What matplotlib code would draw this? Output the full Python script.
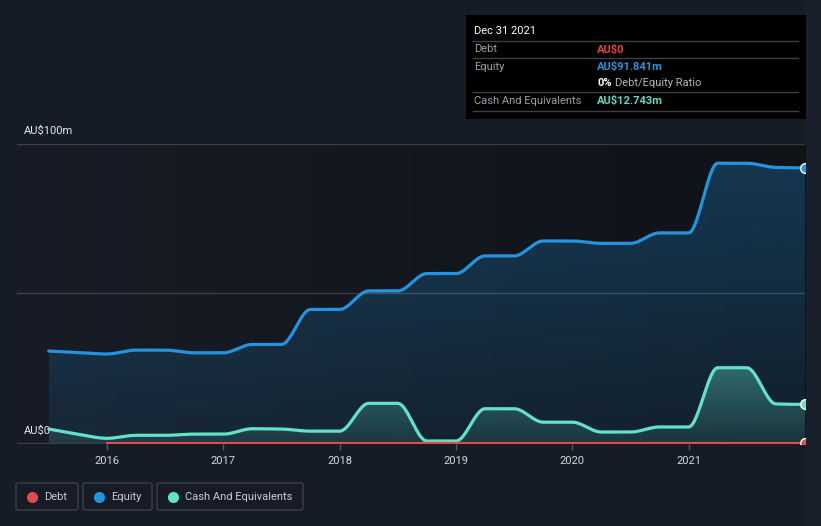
import numpy as np
import matplotlib
matplotlib.use('Agg')
import matplotlib.pyplot as plt
from matplotlib.patches import Rectangle, FancyBboxPatch
from matplotlib.lines import Line2D
from matplotlib.colors import to_rgb

plt.rcParams['font.family'] = ['Roboto', 'DejaVu Sans']

# quarterly dates as decimal years
dates = [2015.5, 2015.75, 2016.0, 2016.25, 2016.5, 2016.75, 2017.0, 2017.25, 2017.5,
         2017.75, 2018.0, 2018.25, 2018.5, 2018.75, 2019.0, 2019.25, 2019.5, 2019.75,
         2020.0, 2020.25, 2020.5, 2020.75, 2021.0, 2021.25, 2021.5, 2021.75, 2022.0]
equity = [30.6, 30.1, 29.6, 30.9, 30.9, 30.0, 30.0, 32.8, 32.8,
          44.5, 44.5, 50.7, 50.7, 56.5, 56.5, 62.4, 62.4, 67.4,
          67.4, 66.6, 66.6, 70.1, 70.1, 93.4, 93.4, 92.0, 91.841]
cash = [4.5, 2.8, 1.4, 2.4, 2.4, 2.8, 2.8, 4.6, 4.5,
        3.8, 3.8, 13.1, 13.1, 0.5, 0.5, 11.3, 11.3, 6.8,
        6.8, 3.5, 3.5, 5.2, 5.2, 25.0, 25.0, 12.9, 12.743]
debt_dates = dates[2:]
debt = [0.0] * len(debt_dates)

years = [2016, 2017, 2018, 2019, 2020, 2021]

BG = '#161c26'
EQ = '#2394df'
CA = '#63e2cb'
DE = '#e5484d'


def monotone(xs, ys, n=24):
    # d3-style monotoneX curve, only used for drawing
    xs = np.asarray(xs, float)
    ys = np.asarray(ys, float)
    h = np.diff(xs)
    s = np.diff(ys) / h
    m = np.zeros_like(ys)
    for i in range(1, len(xs) - 1):
        p = (s[i - 1] * h[i] + s[i] * h[i - 1]) / (h[i - 1] + h[i])
        m[i] = (np.sign(s[i - 1]) + np.sign(s[i])) * min(abs(s[i - 1]), abs(s[i]), 0.5 * abs(p))
    m[0] = (3 * s[0] - m[1]) / 2
    m[-1] = (3 * s[-1] - m[-2]) / 2
    ox, oy = [], []
    for i in range(len(xs) - 1):
        t = np.linspace(0, 1, n, endpoint=False)
        h00 = 2 * t**3 - 3 * t**2 + 1
        h10 = t**3 - 2 * t**2 + t
        h01 = -2 * t**3 + 3 * t**2
        h11 = t**3 - t**2
        ox.append(xs[i] + t * h[i])
        oy.append(h00 * ys[i] + h10 * h[i] * m[i] + h01 * ys[i + 1] + h11 * h[i] * m[i + 1])
    ox.append([xs[-1]])
    oy.append([ys[-1]])
    return np.concatenate(ox), np.concatenate(oy)


fig = plt.figure(figsize=(8.21, 5.26), dpi=100, facecolor=BG)
W, H = 821, 526


def fx(x):
    return x / W


def fy(y):
    return 1 - y / H


# right strip
fig.add_artist(Rectangle((fx(805), 0), 16 / W, 1, transform=fig.transFigure,
                         facecolor='#19202b', edgecolor='none', zorder=0))

ax = fig.add_axes([fx(17), fy(444), (805 - 17) / W, (444 - 143.5) / H])
ax.set_facecolor(BG)
for sp in ax.spines.values():
    sp.set_visible(False)
ax.set_xlim(2015.227, 2022.0)
ax.set_ylim(-0.5, 100)

# plot background gradient
c0, c1 = np.array(to_rgb('#171c26')), np.array(to_rgb('#0f1217'))
g = np.linspace(0, 1, 256)[None, :, None]
ax.imshow(c0 + (c1 - c0) * g, extent=[0, 1, 0, 1], transform=ax.transAxes,
          aspect='auto', zorder=0)


def grad_fill(x, y, color, a_top, a_bot, top, z):
    poly = ax.fill_between(x, y, -0.5, color='none', linewidth=0)
    img = np.zeros((256, 2, 4))
    img[:, :, :3] = to_rgb(color)
    img[:, :, 3] = np.linspace(a_bot, a_top, 256)[:, None]
    im = ax.imshow(img, extent=[x.min(), x.max(), -0.5, top], origin='lower',
                   aspect='auto', zorder=z)
    im.set_clip_path(poly.get_paths()[0], transform=ax.transData)


ex, ey = monotone(dates, equity)
cx, cy = monotone(dates, cash)

grad_fill(ex, ey, EQ, 0.30, 0.10, 100, 1)
grad_fill(cx, cy, CA, 0.38, 0.10, 26, 2)

# gridlines
for yv in [100, 50]:
    ax.axhline(yv, color='white', alpha=0.17, lw=1, zorder=3)
ax.axhline(-0.27, color='#3a3f47', lw=1, zorder=3)

ax.plot(ex, ey, color=EQ, lw=2.3, zorder=5, solid_capstyle='round')
ax.plot(cx, cy, color=CA, lw=2.3, zorder=5, solid_capstyle='round')
ax.plot(debt_dates, debt, color=DE, lw=1.6, zorder=6)

ax.plot(dates[-1], equity[-1], 'o', ms=7, color=EQ, mec='white', mew=1, zorder=7)
ax.plot(dates[-1], cash[-1], 'o', ms=7, color=CA, mec='white', mew=1, zorder=7)
ax.plot(debt_dates[-1], debt[-1], 'o', ms=7, color=DE, mec='white', mew=1, zorder=7)

ax.set_xticks(years)
ax.set_xticklabels([str(y) for y in years])
ax.tick_params(axis='x', colors='#555b65', length=4, width=1, labelcolor='#d5d8dc',
               labelsize=8, pad=5)
ax.set_yticks([])

ytr = ax.get_yaxis_transform()
ax.text(7 / (805 - 17), 102.5, 'AU$100m', transform=ytr, color='#e6e8eb',
        fontsize=8, va='bottom', ha='left')
ax.text(7 / (805 - 17), 2.2, 'AU$0', transform=ytr, color='#e6e8eb',
        fontsize=8, va='bottom', ha='left')

# tooltip
fig.add_artist(Rectangle((fx(466), fy(119)), (806 - 466) / W, (119 - 15) / H,
                         transform=fig.transFigure, facecolor='black', edgecolor='none', zorder=10))
fig.text(fx(474), fy(31), 'Dec 31 2021', color='white', fontsize=8, va='center', zorder=11)
for yl in [41.3, 58.3, 92.3, 110.5]:
    fig.add_artist(Line2D([fx(473), fx(798)], [fy(yl), fy(yl)], transform=fig.transFigure,
                          color='#3d3f43', lw=1, zorder=11))
rows = [('Debt', 'AU$0', '#e84545', 49.5),
        ('Equity', 'AU$91.841m', EQ, 66.5),
        ('Cash And Equivalents', 'AU$12.743m', '#5fd9c3', 100.5)]
for lab, val, col, yy in rows:
    fig.text(fx(474), fy(yy), lab, color='#9a9ea5', fontsize=8, va='center', zorder=11)
    fig.text(fx(597), fy(yy), val, color=col, fontsize=8, va='center', fontweight='bold', zorder=11)
fig.text(fx(597), fy(83.5), '0%', color='white', fontsize=8, va='center',
         fontweight='bold', zorder=11)
fig.text(fx(615), fy(83.5), 'Debt/Equity Ratio', color='#b3b6bb', fontsize=8, va='center', zorder=11)

# legend
items = [('Debt', DE, 16, 78), ('Equity', EQ, 83, 152), ('Cash And Equivalents', CA, 157, 303)]
for lab, col, x0, x1 in items:
    fig.add_artist(FancyBboxPatch((fx(x0), fy(510)), (x1 - x0) / W, 27 / H,
                                  boxstyle='round,pad=0,rounding_size=0.003',
                                  transform=fig.transFigure, facecolor='none',
                                  edgecolor='#3a3f48', lw=1))
    fig.add_artist(Line2D([fx(x0 + 16)], [fy(496.5)], marker='o', ms=7, color=col,
                          mec=col, transform=fig.transFigure))
    fig.text(fx(x0 + 28), fy(496.5), lab, color='#c8ccd2', fontsize=8, va='center')

fig.savefig('out.png', dpi=100, facecolor=BG)
